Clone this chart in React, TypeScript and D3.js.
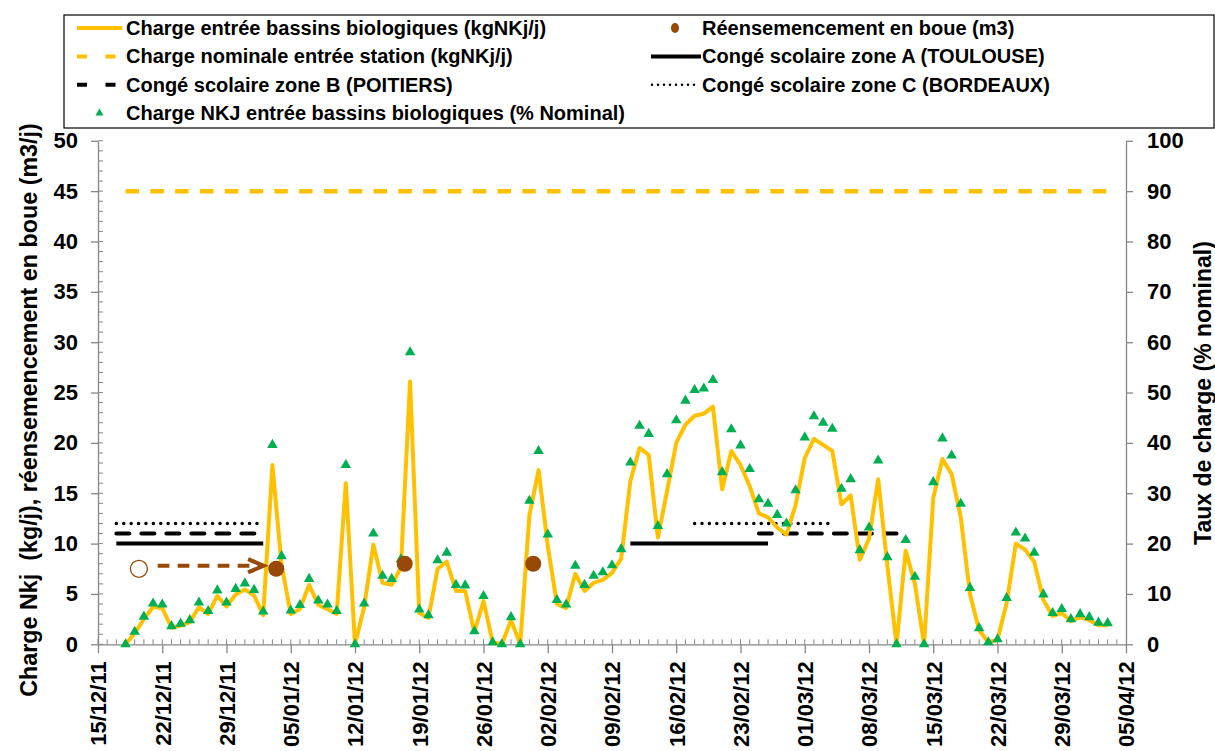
import React, { useRef, useEffect } from 'react'
import * as d3 from 'd3'

const WIDTH = 1215
const HEIGHT = 751
const FONT = '"Liberation Sans", Arial, sans-serif'

// daily values, first day 18/12/2011
const FIRST_DAY = '2011-12-18'
const CHARGE = [
  0, 1.1, 2.5, 3.7, 3.6, 1.65, 1.85, 2.2, 3.7, 3.0, 4.8, 3.75, 4.95, 5.45, 4.85, 2.9,
  17.8, 7.9, 3.0, 3.5, 5.9, 3.9, 3.5, 3.0, 16.0, 0, 3.7, 9.9, 6.1, 5.9, 7.6, 26.1,
  3.1, 2.6, 7.5, 8.2, 5.3, 5.3, 1.2, 4.3, 0.2, 0, 2.4, 0, 12.8, 17.3, 9.8, 4.0,
  3.6, 7.0, 5.3, 6.1, 6.4, 7.1, 8.5, 16.2, 19.5, 18.8, 10.6, 15.2, 20.0, 21.8, 22.7, 22.9,
  23.6, 15.4, 19.2, 17.8, 15.7, 13.0, 12.6, 11.6, 10.9, 13.8, 18.5, 20.4, 19.8, 19.2, 13.9, 14.8,
  8.4, 10.5, 16.4, 7.8, 0, 9.3, 6.0, 0, 14.5, 18.4, 16.9, 12.6, 5.0, 1.4, 0.2, 0.45,
  4.1, 10.0, 9.4, 8.2, 4.4, 2.8, 3.1, 2.3, 2.7, 2.4, 1.9, 1.9,
]
const PCT_NOMINAL = [
  0, 2.5, 5.5, 8.1, 7.9, 3.6, 4.1, 4.8, 8.3, 6.6, 10.7, 8.3, 11.0, 12.1, 10.8, 6.5,
  39.6, 17.5, 6.7, 7.8, 13.0, 8.7, 7.9, 6.6, 35.6, 0, 8.1, 22.0, 13.6, 13.0, 16.9, 58.0,
  6.9, 5.8, 16.7, 18.2, 11.8, 11.7, 2.6, 9.6, 0.4, 0, 5.4, 0, 28.5, 38.4, 21.8, 8.8,
  7.9, 15.6, 11.8, 13.6, 14.3, 15.7, 18.9, 36.1, 43.4, 41.8, 23.5, 33.8, 44.5, 48.4, 50.5, 50.8,
  52.5, 34.2, 42.7, 39.5, 34.8, 28.8, 27.9, 25.7, 24.0, 30.6, 41.1, 45.3, 44.0, 42.8, 30.9, 32.8,
  18.7, 23.2, 36.5, 17.3, 0, 20.7, 13.4, 0, 32.2, 40.9, 37.5, 27.9, 11.2, 3.2, 0.4, 1.0,
  9.2, 22.2, 21.0, 18.2, 9.9, 6.2, 7.0, 5.0, 6.0, 5.4, 4.3, 4.2,
]
const NOMINAL = 45

const RESEED_DATES = ['2012-01-03T10:00', '2012-01-17T10:00', '2012-01-31T10:00']
const RESEED_VALUES = [7.5, 8, 8]

// annotation: open circle + dashed arrow to the first reseeding
const NOTE_CIRCLE = ['2011-12-19T11:00', 7.5]
const NOTE_ARROW = ['2011-12-21T12:00', '2012-01-02T01:00', 7.8]

const ZONE_A = [['2011-12-17', '2012-01-02'], ['2012-02-11', '2012-02-26']]
const ZONE_B = [['2011-12-17', '2012-01-02'], ['2012-02-25', '2012-03-11']]
const ZONE_C = [['2011-12-17', '2012-01-02'], ['2012-02-18', '2012-03-04']]
const ZONE_LEVELS = [10, 11, 12]

const X_START = '2011-12-15'
const X_END = '2012-04-05'
const Y_LEFT_TICKS = d3.range(0, 51, 5)
const Y_RIGHT_TICKS = d3.range(0, 101, 10)

const parseDay = d3.utcParse('%Y-%m-%d')
const parseTime = d3.utcParse('%Y-%m-%dT%H:%M')
const fmt = d3.utcFormat('%d/%m/%y')

const YELLOW = '#FFC000'
const GREEN = '#00B050'
const BROWN = '#984807'
const AXIS = '#868686'

function Chart() {
  const svgRef = useRef(null)

  useEffect(() => {
    const svg = d3.select(svgRef.current)
    svg.selectAll('*').remove()

    const x = d3.scaleUtc().domain([parseDay(X_START), parseDay(X_END)]).range([98, 1126])
    const y = d3.scaleLinear().domain([0, 50]).range([644.3, 140.8])
    const yR = d3.scaleLinear().domain([0, 100]).range([644.3, 140.8])

    const first = parseDay(FIRST_DAY)
    const days = CHARGE.map((v, i) => ({ date: d3.utcDay.offset(first, i), v, p: PCT_NOMINAL[i] }))

    svg.append('rect').attr('width', WIDTH).attr('height', HEIGHT).attr('fill', 'white')

    // axes
    const gL = svg.append('g').attr('transform', 'translate(98,0)')
    gL.call(d3.axisLeft(y).tickValues(Y_LEFT_TICKS).tickSize(7).tickSizeOuter(0).tickPadding(13))
    d3.range(0, 51, 1).forEach((v) => {
      gL.append('line').attr('x1', 0).attr('x2', 5).attr('y1', y(v)).attr('y2', y(v)).attr('stroke', AXIS)
    })

    const gR = svg.append('g').attr('transform', 'translate(1126,0)')
    gR.call(d3.axisRight(yR).tickValues(Y_RIGHT_TICKS).tickSize(7).tickSizeOuter(0).tickPadding(14))

    const weeks = d3.utcDay.range(parseDay(X_START), d3.utcDay.offset(parseDay(X_END), 1), 7)
    const gB = svg.append('g').attr('transform', `translate(0,${y(0)})`)
    gB.call(d3.axisBottom(x).tickValues(weeks).tickSize(9).tickSizeOuter(0).tickFormat(fmt))
    gB.selectAll('.tick text')
      .attr('transform', 'rotate(-90)')
      .attr('text-anchor', 'end')
      .attr('x', -17)
      .attr('y', 0)
      .attr('dy', '0.36em')
    d3.utcDay.range(parseDay(X_START), parseDay(X_END)).forEach((d) => {
      gB.append('line').attr('x1', x(d)).attr('x2', x(d)).attr('y1', 0).attr('y2', -5).attr('stroke', AXIS)
    })

    svg.selectAll('.domain, .tick line').attr('stroke', AXIS).attr('stroke-width', 1.3)
    svg.selectAll('.tick text')
      .attr('fill', '#000')
      .attr('font-size', 22)
      .attr('font-weight', 'bold')
      .attr('font-family', FONT)

    // holidays
    const zones = [
      { spans: ZONE_A, dash: null, cap: 'butt' },
      { spans: ZONE_B, dash: '13,12', cap: 'round' },
      { spans: ZONE_C, dash: '0,7.4', cap: 'round' },
    ]
    zones.forEach((z, i) => {
      z.spans.forEach(([a, b]) => {
        svg.append('line')
          .attr('x1', x(parseDay(a))).attr('x2', x(parseDay(b)))
          .attr('y1', y(ZONE_LEVELS[i])).attr('y2', y(ZONE_LEVELS[i]))
          .attr('stroke', '#000')
          .attr('stroke-width', i === 2 ? 3.5 : 4)
          .attr('stroke-linecap', z.cap)
          .attr('stroke-dasharray', z.dash)
      })
    })

    // nominal load
    svg.append('line')
      .attr('x1', x(days[0].date)).attr('x2', x(days[days.length - 1].date))
      .attr('y1', y(NOMINAL)).attr('y2', y(NOMINAL))
      .attr('stroke', YELLOW).attr('stroke-width', 4.5)
      .attr('stroke-dasharray', '13.5,11.3')

    // load line
    const line = d3.line().x((d) => x(d.date)).y((d) => y(d.v))
    svg.append('path')
      .datum(days)
      .attr('d', line)
      .attr('fill', 'none')
      .attr('stroke', YELLOW)
      .attr('stroke-width', 4)
      .attr('stroke-linejoin', 'round')

    // % nominal triangles
    const tri = d3.symbol(d3.symbolTriangle, 48)
    svg.append('g').selectAll('path')
      .data(days)
      .join('path')
      .attr('d', tri)
      .attr('transform', (d) => `translate(${x(d.date)},${yR(d.p)})`)
      .attr('fill', GREEN)

    // reseeding
    RESEED_DATES.forEach((d, i) => {
      svg.append('circle')
        .attr('cx', x(parseTime(d)))
        .attr('cy', y(RESEED_VALUES[i]))
        .attr('r', 8)
        .attr('fill', BROWN)
    })

    // annotation
    svg.append('circle')
      .attr('cx', x(parseTime(NOTE_CIRCLE[0])))
      .attr('cy', y(NOTE_CIRCLE[1]))
      .attr('r', 8.5)
      .attr('fill', 'white')
      .attr('stroke', BROWN)
      .attr('stroke-width', 1.3)
    const ax0 = x(parseTime(NOTE_ARROW[0]))
    const ax1 = x(parseTime(NOTE_ARROW[1]))
    const ay = y(NOTE_ARROW[2])
    svg.append('line')
      .attr('x1', ax0).attr('x2', ax1 - 3).attr('y1', ay).attr('y2', ay)
      .attr('stroke', BROWN).attr('stroke-width', 4)
      .attr('stroke-dasharray', '11.7,8.3')
    svg.append('path')
      .attr('d', `M${ax1 - 15.5},${ay - 6.7}L${ax1},${ay}L${ax1 - 15.5},${ay + 6.7}`)
      .attr('fill', 'none')
      .attr('stroke', BROWN)
      .attr('stroke-width', 4)
      .attr('stroke-linejoin', 'miter')

    // axis titles
    svg.append('text')
      .attr('transform', 'translate(29,410) rotate(-90)')
      .attr('text-anchor', 'middle')
      .attr('dy', '0.35em')
      .attr('font-family', FONT).attr('font-weight', 'bold').attr('font-size', 23.3)
      .attr('xml:space', 'preserve')
      .text('Charge Nkj  (kg/j), réensemencement en boue (m3/j)')
    svg.append('text')
      .attr('transform', 'translate(1203,393) rotate(-90)')
      .attr('text-anchor', 'middle')
      .attr('dy', '0.35em')
      .attr('font-family', FONT).attr('font-weight', 'bold').attr('font-size', 23)
      .text('Taux de charge (% nominal)')

    // legend
    const lg = svg.append('g')
    lg.append('rect')
      .attr('x', 64).attr('y', 15).attr('width', 1150).attr('height', 113)
      .attr('fill', 'white').attr('stroke', '#000').attr('stroke-width', 1.2)
    const rowY = (i) => 28 + i * 28.4
    const label = (tx, i, s) => lg.append('text')
      .attr('x', tx).attr('y', rowY(i)).attr('dy', '0.35em')
      .attr('font-family', FONT).attr('font-weight', 'bold').attr('font-size', 20)
      .text(s)

    lg.append('line').attr('x1', 77).attr('x2', 122).attr('y1', rowY(0)).attr('y2', rowY(0))
      .attr('stroke', YELLOW).attr('stroke-width', 4)
    label(126, 0, 'Charge entrée bassins biologiques (kgNKj/j)')
    lg.append('line').attr('x1', 77).attr('x2', 116).attr('y1', rowY(1)).attr('y2', rowY(1))
      .attr('stroke', YELLOW).attr('stroke-width', 4).attr('stroke-dasharray', '10,18.5')
    label(126, 1, 'Charge nominale entrée station (kgNKj/j)')
    lg.append('line').attr('x1', 77).attr('x2', 116).attr('y1', rowY(2)).attr('y2', rowY(2))
      .attr('stroke', '#000').attr('stroke-width', 4).attr('stroke-dasharray', '10,18.5')
    label(126, 2, 'Congé scolaire zone B (POITIERS)')
    lg.append('path').attr('d', d3.symbol(d3.symbolTriangle, 28)())
      .attr('transform', `translate(99.5,${rowY(3)})`).attr('fill', GREEN)
    label(126, 3, 'Charge NKJ entrée bassins biologiques (% Nominal)')

    lg.append('ellipse').attr('cx', 675).attr('cy', rowY(0)).attr('rx', 4).attr('ry', 5).attr('fill', BROWN)
    label(702, 0, 'Réensemencement en boue (m3)')
    lg.append('line').attr('x1', 651).attr('x2', 701).attr('y1', rowY(1)).attr('y2', rowY(1))
      .attr('stroke', '#000').attr('stroke-width', 4)
    label(702, 1, 'Congé scolaire zone A (TOULOUSE)')
    lg.append('line').attr('x1', 652).attr('x2', 696).attr('y1', rowY(2)).attr('y2', rowY(2))
      .attr('stroke', '#000').attr('stroke-width', 2.5).attr('stroke-linecap', 'round')
      .attr('stroke-dasharray', '0,6')
    label(702, 2, 'Congé scolaire zone C (BORDEAUX)')
  }, [])

  return <svg ref={svgRef} width={WIDTH} height={HEIGHT} style={{ display: 'block' }} />
}

export default function App() {
  return (
    <div style={{ position: 'absolute', left: 0, top: 0 }}>
      <Chart />
    </div>
  )
}
